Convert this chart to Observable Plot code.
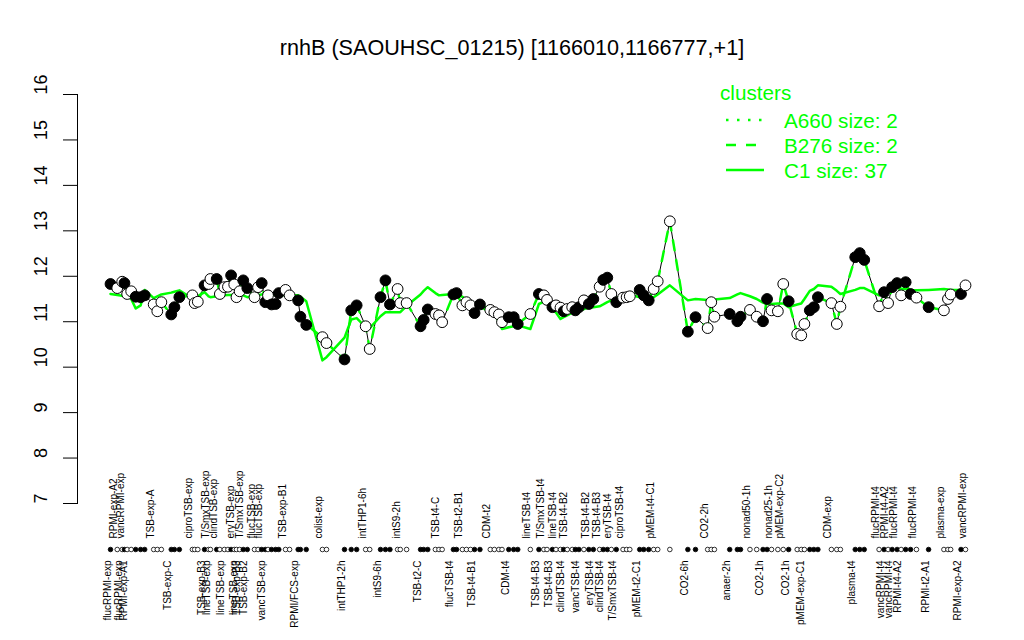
<!DOCTYPE html>
<html><head><meta charset="utf-8">
<script src="https://cdn.jsdelivr.net/npm/d3@7"></script>
<script src="https://cdn.jsdelivr.net/npm/@observablehq/plot@0.6"></script>
<style>
html,body{margin:0;padding:0;background:#fff;}
#chart svg{display:block;}
</style>
</head><body><div id="chart"></div>
<script>
const title = "rnhB (SAOUHSC_01215) [1166010,1166777,+1]";
const yTicks = [7, 8, 9, 10, 11, 12, 13, 14, 15, 16];

// sample positions along the condition axis (in sample slots)
const samplePos = [1, 2.5, 3.6, 4.1, 4.7, 5.6, 6.6, 7.7, 8.6, 10.6,
  11.4, 12.3, 14.5, 15.2, 16.3, 19.2, 19.7, 20.4, 21.9, 22.8,
  23.2, 24.6, 25.3, 26.3, 27.1, 27.8, 28.5, 29, 29.7, 30.5,
  31.4, 33, 33.8, 34.6, 35.4, 36.0, 36.8, 37.7, 38.4, 39.9,
  40.8, 42.7, 43.2, 44.5, 48.1, 49, 53, 54.5, 55.7, 57.7,
  58.6, 61, 62.1, 63.1, 64.8, 65.4, 66.8, 69.9, 70.6, 71.5,
  73.2, 74, 74.7, 77.2, 77.9, 79.2, 80.1, 81, 81.9, 83.1,
  85.4, 86.3, 87.3, 88, 89.5, 90.6, 91.5, 94.3, 96.2, 97.3,
  98, 99.2, 100.0, 101, 101.7, 102.5, 103.6, 104.3, 105.1, 106.2,
  107.3, 108.3, 109.7, 110.5, 111.4, 112.3, 113.4, 114.9, 115.7, 116.4,
  118.6, 119.5, 120.6, 121.7, 122.6, 125.3, 129.3, 131, 133.7, 134.5,
  135.2, 138.6, 140.3, 141, 143.1, 144.6, 146, 146.9, 147.9, 149.3,
  150.5, 151.7, 153.6, 154.5, 155.2, 156.4, 157.3, 158.2, 161.2, 162.4,
  163.2, 166.5, 167.5, 168.5, 171.8, 172.9, 173.8, 174.7, 175.8, 176.7,
  177.7, 178.8, 180.1, 182.8, 186.2, 187.1, 187.7, 190, 191];

// expression of rnhB per sample
const sampleValue = [11.83, 11.74, 11.88, 11.85, 11.61, 11.67, 11.55, 11.54, 11.58, 11.38,
  11.23, 11.43, 11.16, 11.32, 11.54, 11.58, 11.41, 11.44, 11.80, 11.83,
  11.94, 11.94, 11.61, 11.76, 11.77, 12.02, 11.82, 11.54, 11.67, 11.91,
  11.74, 11.54, 11.76, 11.85, 11.43, 11.58, 11.38, 11.39, 11.63, 11.70,
  11.58, 11.47, 11.11, 10.93, 10.66, 10.53, 10.17, 11.25, 11.36, 10.90,
  10.40, 11.54, 11.91, 11.38, 11.72, 11.41, 11.41, 10.90, 11.04, 11.27,
  11.17, 11.14, 10.99, 11.60, 11.63, 11.36, 11.43, 11.36, 11.19, 11.38,
  11.26, 11.21, 11.16, 10.99, 11.10, 11.10, 10.95, 11.17, 11.61, 11.58,
  11.48, 11.32, 11.36, 11.31, 11.23, 11.28, 11.32, 11.25, 11.32, 11.47,
  11.39, 11.50, 11.77, 11.92, 11.97, 11.61, 11.43, 11.53, 11.54, 11.56,
  11.70, 11.58, 11.47, 11.72, 11.89, 13.21, 10.78, 11.10, 10.86, 11.43,
  11.11, 11.17, 11.01, 11.11, 11.26, 11.11, 11.01, 11.50, 11.25, 11.23,
  11.83, 11.45, 10.73, 10.70, 10.95, 11.25, 11.32, 11.54, 11.41, 10.95,
  11.33, 12.42, 12.51, 12.36, 11.34, 11.65, 11.41, 11.76, 11.85, 11.58,
  11.87, 11.61, 11.53, 11.32, 11.25, 11.50, 11.60, 11.61, 11.80];

// 1 = filled circle, 0 = open circle
const sampleFilled = [1,0,0,1,0,0,1,1,1,0, 0,0,1,1,1,0,0,0,1,0, 0,1,0,0,0,1,0,0,0,1,
  1,0,0,1,1,0,1,1,1,0, 0,1,1,1,0,0,1,1,1,0, 0,1,1,1,0,0,0,1,1,1,
  0,0,0,1,1,0,0,0,1,1, 0,0,0,0,1,1,1,0,1,0, 0,1,0,0,1,0,0,1,1,0,
  1,1,0,1,1,0,1,0,0,0, 1,1,1,0,0,0,1,1,0,0, 0,1,1,1,0,0,1,1,0,0,
  0,1,0,0,0,1,1,1,0,0, 0,1,1,1,0,1,0,1,1,0, 1,1,0,1,0,0,0,1,0];

// cluster C1 mean profile
const c1Value = [11.61, 11.59, 11.57, 11.56, 11.55, 11.50, 11.29, 11.36, 11.70, 11.52,
  11.56, 11.60, 11.64, 11.66, 11.69, 11.51, 11.51, 11.56, 11.65, 11.56,
  11.54, 11.56, 11.57, 11.58, 11.59, 11.59, 11.60, 11.60, 11.61, 11.58,
  11.54, 11.57, 11.59, 11.60, 11.61, 11.61, 11.60, 11.60, 11.59, 11.59,
  11.58, 11.58, 11.55, 11.45, 10.15, 10.22, 10.65, 11.05, 11.08, 10.88,
  10.86, 11.12, 11.21, 11.21, 11.21, 11.21, 11.35, 11.60, 11.68, 11.76,
  11.63, 11.58, 11.59, 11.61, 11.60, 11.55, 11.49, 11.45, 11.40, 11.33,
  11.21, 11.17, 11.00, 10.84, 10.88, 10.90, 10.92, 10.84, 11.39, 11.44,
  11.47, 11.28, 11.20, 11.06, 11.10, 11.14, 11.20, 11.22, 11.24, 11.28,
  11.31, 11.32, 11.34, 11.38, 11.43, 11.47, 11.52, 11.58, 11.61, 11.60,
  11.54, 11.54, 11.54, 11.54, 11.60, 11.80, 11.47, 11.50, 11.48, 11.48,
  11.49, 11.52, 11.60, 11.63, 11.56, 11.50, 11.42, 11.39, 11.39, 11.40,
  11.40, 11.32, 11.38, 11.40, 11.50, 11.68, 11.72, 11.80, 11.77, 11.68,
  11.61, 11.70, 11.74, 11.74, 11.58, 11.65, 11.68, 11.75, 11.75, 11.73,
  11.72, 11.70, 11.69, 11.70, 11.72, 11.71, 11.70, 11.70, 11.70];

// sample labels: [sample number, name]
const topLabels = [[2,"RPMI-exp-A2"],[4,"vancRPMI-exp"],[10,"TSB-exp-A"],[16,"ciproTSB-exp"],
  [20,"T/SmxTSB-exp"],[22,"clindTSB-exp"],[27,"eryTSB-exp"],[30,"T/SmxTSB-exp"],[32,"flucTSB-exp"],
  [34,"flucTSB-exp"],[40,"TSB-exp-B1"],[45,"colist-exp"],[50,"intTHP1-6h"],[56,"intS9-2h"],
  [62,"TSB-t4-C"],[66,"TSB-t2-B1"],[71,"CDM-t2"],[78,"lineTSB-t4"],[80,"T/SmxTSB-t4"],
  [83,"lineTSB-t4"],[86,"TSB-t4-B2"],[91,"TSB-t4-B2"],[93,"TSB-t4-B3"],[96,"eryTSB-t4"],
  [98,"ciproTSB-t4"],[104,"pMEM-t4-C1"],[109,"CO2-2h"],[115,"nonad50-1h"],[119,"nonad25-1h"],
  [121,"pMEM-exp-C2"],[129,"CDM-exp"],[135,"flucRPMI-t4"],[137,"RPMI-t4-A2"],[139,"flucRPMI-t4"],
  [143,"flucRPMI-t4"],[145,"plasma-exp"],[149,"vancRPMI-exp"]];
const bottomLabels = [[1,"flucRPMI-exp"],[3,"flucRPMI-exp"],[5,"RPMI-exp-A1"],[13,"TSB-exp-C"],
  [19,"TSB-exp-B3"],[21,"lineTSB-exp"],[24,"lineTSB-exp"],[28,"lineTSB-exp"],[29,"TSB-exp-B3"],
  [31,"TSB-exp-B2"],[35,"vancTSB-exp"],[42,"RPMI/FCS-exp"],[47,"intTHP1-2h"],[52,"intS9-6h"],
  [58,"TSB-t2-C"],[64,"flucTSB-t4"],[69,"TSB-t4-B1"],[75,"CDM-t4"],[79,"TSB-t4-B3"],
  [82,"TSB-t4-B3"],[85,"clindTSB-t4"],[89,"vancTSB-t4"],[92,"eryTSB-t4"],[94,"clindTSB-t4"],
  [97,"T/SmxTSB-t4"],[101,"pMEM-t2-C1"],[107,"CO2-6h"],[112,"anaer-2h"],[117,"CO2-1h"],
  [122,"CO2-1h"],[125,"pMEM-exp-C1"],[132,"plasma-t4"],[136,"vancRPMI-t4"],[138,"vancRPMI-t4"],
  [140,"RPMI-t4-A2"],[144,"RPMI-t2-A1"],[148,"RPMI-exp-A2"]];

const clusterNames = ["A660", "B276", "C1"];
const clusterSizes = [2, 2, 37];

// ---------- build ----------
const samples = samplePos.map((p, i) => ({
  pos: p, value: sampleValue[i], filled: sampleFilled[i] === 1, c1: c1Value[i]
}));
const GREEN = "#00ff00";
const FONT = "'Liberation Sans', Arial, Helvetica, sans-serif";
const fillOf = d => d.filled ? "black" : "white";

const chart = Plot.plot({
  width: 1024, height: 640,
  marginLeft: 77, marginRight: 54, marginTop: 94, marginBottom: 137,
  style: {fontFamily: FONT, background: "white"},
  x: {domain: [1, 191], range: [110, 965], axis: null},
  y: {domain: [7, 16], axis: null},
  color: {type: "identity"},
  marks: [
    Plot.frame({anchor: "left", stroke: "black"}),
    Plot.axisY({ticks: yTicks, tickSize: 14, tickFormat: () => "", stroke: "black", strokeOpacity: 1}),
    Plot.text(yTicks, {y: d => d, text: d => String(d), frameAnchor: "left", dx: -36, rotate: -90,
      fontSize: 18, fill: "black"}),
    Plot.line(samples, {x: "pos", y: "value", stroke: "black", strokeWidth: 1}),
    Plot.line(samples, {x: "pos", y: "value", stroke: GREEN, strokeWidth: 2.5, strokeDasharray: "10,10"}),
    Plot.line(samples, {x: "pos", y: "c1", stroke: GREEN, strokeWidth: 2.5}),
    Plot.dot(samples, {x: "pos", y: "value", r: 5.4, fill: fillOf, stroke: "black", strokeWidth: 1}),
    Plot.dot(samples, {x: "pos", frameAnchor: "bottom", dy: 46, r: 2.3, fill: fillOf, stroke: "black", strokeWidth: 0.8}),
    Plot.text(topLabels, {x: d => samplePos[d[0] - 1], text: d => d[1], frameAnchor: "bottom", dy: 35,
      rotate: -90, textAnchor: "start", fontSize: 10, fill: "black"}),
    Plot.text(bottomLabels, {x: d => samplePos[d[0] - 1], text: d => d[1], frameAnchor: "bottom", dy: 57,
      rotate: -90, textAnchor: "end", fontSize: 10, fill: "black"})
  ]
});

const svg = d3.select(chart);
svg.append("text")
  .attr("x", 512).attr("y", 47)
  .attr("text-anchor", "middle").attr("dominant-baseline", "central")
  .attr("font-family", FONT).attr("font-size", 21.6).attr("fill", "black")
  .text(title);

const lg = svg.append("g").attr("font-family", FONT).attr("text-anchor", "start");
lg.append("text").attr("x", 720).attr("y", 92).attr("dominant-baseline", "central")
  .attr("text-anchor", "start")
  .attr("font-size", 20.7).attr("fill", GREEN).text("clusters");
const dashes = ["2.5,8.5", "10,10", null];
clusterNames.forEach((n, k) => {
  const y = 120 + k * 25;
  const ln = lg.append("line").attr("x1", 726).attr("x2", 764).attr("y1", y).attr("y2", y)
    .attr("stroke", GREEN).attr("stroke-width", 2.5);
  if (dashes[k]) ln.attr("stroke-dasharray", dashes[k]);
  lg.append("text").attr("x", 784).attr("y", y).attr("dominant-baseline", "central")
    .attr("text-anchor", "start")
    .attr("font-size", 20.7).attr("fill", GREEN).text(`${n} size: ${clusterSizes[k]}`);
});

document.getElementById("chart").appendChild(chart);
</script>
</body></html>
